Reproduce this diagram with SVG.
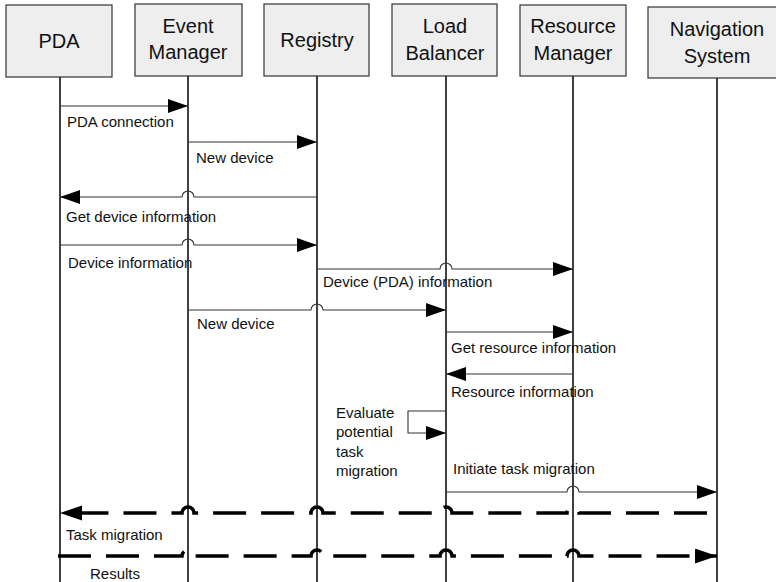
<svg xmlns="http://www.w3.org/2000/svg" width="776" height="582" viewBox="0 0 776 582">
<style>
.box{fill:#eeeeee;stroke:#333;stroke-width:1.2}
.bt{font-family:"Liberation Sans",Arial,sans-serif;font-size:20px;fill:#111;text-anchor:middle}
.life{stroke:#111;stroke-width:1.6;fill:none}
.msg{stroke:#333;stroke-width:1.1;fill:none}
.dash{stroke:#000;stroke-width:3.5;fill:none;stroke-dasharray:33 15}
.lbl{font-family:"Liberation Sans",Arial,sans-serif;font-size:15px;fill:#111}
</style>
<defs>
<marker id="ah" markerUnits="userSpaceOnUse" markerWidth="22" markerHeight="16" refX="20" refY="7" orient="auto">
<path d="M0,0 L20,7 L0,14 Z" fill="#000"/>
</marker>
<marker id="ahd" markerUnits="userSpaceOnUse" markerWidth="24" markerHeight="17" refX="22" refY="7.5" orient="auto">
<path d="M0,0 L22,7.5 L0,15 Z" fill="#000"/>
</marker>
</defs>
<g id="pda"><rect class="box" x="6" y="5" width="106" height="72"/><text class="bt" x="59" y="48">PDA</text><line class="life" x1="60" y1="77" x2="60" y2="582"/></g>
<g id="event-manager"><rect class="box" x="135" y="4" width="107" height="72"/><text class="bt" x="188" y="33">Event</text><text class="bt" x="188" y="59">Manager</text><line class="life" x1="188" y1="76" x2="188" y2="582"/></g>
<g id="registry"><rect class="box" x="264" y="4" width="105" height="72"/><text class="bt" x="317" y="47">Registry</text><line class="life" x1="317" y1="76" x2="317" y2="582"/></g>
<g id="load-balancer"><rect class="box" x="392" y="4" width="105" height="72"/><text class="bt" x="445" y="33">Load</text><text class="bt" x="445" y="60">Balancer</text><line class="life" x1="446" y1="76" x2="446" y2="582"/></g>
<g id="resource-manager"><rect class="box" x="520" y="5" width="106" height="71"/><text class="bt" x="573" y="33">Resource</text><text class="bt" x="573" y="60">Manager</text><line class="life" x1="573" y1="76" x2="573" y2="582"/></g>
<g id="navigation-system"><rect class="box" x="648" y="7" width="140" height="71"/><text class="bt" x="717" y="36">Navigation</text><text class="bt" x="717" y="63">System</text><line class="life" x1="717" y1="78" x2="717" y2="582"/></g>
<g id="connectors">
<path class="msg" d="M60,106 H188" marker-end="url(#ah)"/>
<path class="msg" d="M188,142 H317" marker-end="url(#ah)"/>
<path class="msg" d="M317,197 H194 A6,6 0 0 0 182,197 H60" marker-end="url(#ah)"/>
<path class="msg" d="M60,245 H182 A6,6 0 0 1 194,245 H317" marker-end="url(#ah)"/>
<path class="msg" d="M317,269 H440 A6,6 0 0 1 452,269 H573" marker-end="url(#ah)"/>
<path class="msg" d="M188,310 H311 A6,6 0 0 1 323,310 H446" marker-end="url(#ah)"/>
<path class="msg" d="M446,332 H573" marker-end="url(#ah)"/>
<path class="msg" d="M573,374 H446" marker-end="url(#ah)"/>
<path class="msg" d="M446,411 H408 V433 H446" marker-end="url(#ah)"/>
<path class="msg" d="M446,492 H567 A6,6 0 0 1 579,492 H717" marker-end="url(#ah)"/>
<path class="dash" d="M707,513 H579 A6,6 0 0 0 567,513 H452 A6,6 0 0 0 440,513 H323 A6,6 0 0 0 311,513 H194 A6,6 0 0 0 182,513 H60" marker-end="url(#ahd)"/>
<path class="dash" d="M58,556 H182 A6,6 0 0 1 194,556 H311 A6,6 0 0 1 323,556 H440 A6,6 0 0 1 452,556 H567 A6,6 0 0 1 579,556 H717" marker-end="url(#ahd)"/>
</g>
<g id="labels">
<text class="lbl" x="67" y="127">PDA connection</text>
<text class="lbl" x="196" y="163">New device</text>
<text class="lbl" x="66" y="222">Get device information</text>
<text class="lbl" x="68" y="268">Device information</text>
<text class="lbl" x="323" y="287">Device (PDA) information</text>
<text class="lbl" x="197" y="329">New device</text>
<text class="lbl" x="451" y="353">Get resource information</text>
<text class="lbl" x="451" y="397">Resource information</text>
<text class="lbl" x="336" y="418">Evaluate</text>
<text class="lbl" x="336" y="437">potential</text>
<text class="lbl" x="336" y="457">task</text>
<text class="lbl" x="336" y="476">migration</text>
<text class="lbl" x="453" y="474">Initiate task migration</text>
<text class="lbl" x="66" y="540">Task migration</text>
<text class="lbl" x="90" y="579">Results</text>
</g>
</svg>
